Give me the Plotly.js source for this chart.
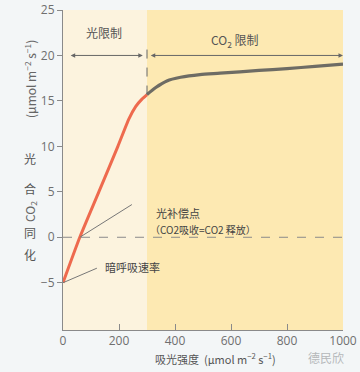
<!DOCTYPE html>
<html>
<head>
<meta charset="utf-8">
<script src="https://cdn.plot.ly/plotly-3.0.1.min.js"></script>
<style>html,body{margin:0;padding:0;background:#f3f6f7;}</style>
</head>
<body>
<div id="chart" style="width:360px;height:372px;"></div>
<script>
// Light-limited segment (red)
var lightX = [0, 60, 128, 196, 235, 260, 282, 300];
var lightY = [-5, 0, 5, 10, 13, 14.4, 15.2, 15.7];
// CO2-limited segment (gray)
var co2X = [300, 330, 371, 420, 489, 561, 700, 800, 900, 1000];
var co2Y = [15.7, 16.45, 17.2, 17.6, 17.9, 18.05, 18.35, 18.55, 18.8, 19.05];
var xTicks = [0, 200, 400, 600, 800, 1000];
var yTicks = [-5, 0, 5, 10, 15, 20, 25];
var boundary = 300;

var cjk = '"Noto Sans CJK SC", "Noto Sans", sans-serif';
var tickFont = {family: '"Open Sans", "Noto Sans", sans-serif', size: 12, color: '#6f6f6f'};

var traces = [
  {x: lightX, y: lightY, mode: 'lines', line: {color: '#ee6a4e', width: 3, shape: 'spline', smoothing: 0.5}, hoverinfo: 'skip'},
  {x: co2X, y: co2Y, mode: 'lines', line: {color: '#6e6c64', width: 3.2, shape: 'spline', smoothing: 0.7}, hoverinfo: 'skip'}
];

var yCol = -0.118;
function py(p){ return (330 - p) / 320; }
function side(y, text, rot){
  var a = {xref: 'paper', yref: 'paper', x: yCol, y: py(y), xanchor: 'center', yanchor: 'middle',
           text: text, showarrow: false, font: {family: cjk, size: 12, color: '#555'}};
  if (rot) { a.textangle = -90; a.font.color = '#666'; }
  return a;
}

var layout = {
  width: 360, height: 372,
  margin: {l: 63, r: 17, t: 10, b: 42},
  paper_bgcolor: '#f3f6f7',
  plot_bgcolor: '#fcf3de',
  showlegend: false,
  xaxis: {range: [0, 1000], tickvals: xTicks, ticks: 'inside', ticklen: 6, tickcolor: '#8a8a8a',
          showline: true, linecolor: '#8a8a8a', linewidth: 1, showgrid: false, zeroline: false,
          tickfont: tickFont, fixedrange: true},
  yaxis: {range: [-10.2, 25], tickvals: yTicks, ticktext: ['\u22125','0','5','10','15','20','25'],
          ticks: 'outside', ticklen: 5, tickcolor: '#8a8a8a',
          showline: true, linecolor: '#8a8a8a', linewidth: 1, showgrid: false, zeroline: false,
          tickfont: tickFont, fixedrange: true},
  shapes: [
    {type: 'rect', xref: 'x', yref: 'y', x0: 0, x1: boundary, y0: -10.2, y1: 25, fillcolor: '#fcf3de', line: {width: 0}, layer: 'below'},
    {type: 'rect', xref: 'x', yref: 'y', x0: boundary, x1: 1000, y0: -10.2, y1: 25, fillcolor: '#fde9b2', line: {width: 0}, layer: 'below'},
    {type: 'line', xref: 'x', yref: 'y', x0: 0, x1: 1000, y0: 0, y1: 0, line: {color: '#8a8a8a', width: 1, dash: 'dash'}},
    {type: 'line', xref: 'x', yref: 'y', x0: boundary, x1: boundary, y0: 15.7, y1: 21.2, line: {color: '#666', width: 1, dash: 'dash'}},
    {type: 'line', xref: 'x', yref: 'y', x0: 60, y0: 0, x1: 246, y1: 3.6, line: {color: '#777', width: 1}},
    {type: 'line', xref: 'x', yref: 'y', x0: 0, y0: -5, x1: 121, y1: -3.4, line: {color: '#777', width: 1}}
  ],
  annotations: [
    {xref: 'x', yref: 'y', axref: 'x', ayref: 'y', x: 285, y: 20, ax: 22, ay: 20, text: '', showarrow: true,
     arrowhead: 2, arrowside: 'end+start', arrowsize: 0.9, arrowwidth: 1, arrowcolor: '#666'},
    {xref: 'x', yref: 'y', axref: 'x', ayref: 'y', x: 1000, y: 20, ax: 308, ay: 20, text: '', showarrow: true,
     arrowhead: 2, arrowside: 'end+start', arrowsize: 0.9, arrowwidth: 1, arrowcolor: '#666'},
    {xref: 'x', yref: 'y', x: 145, y: 22.5, xanchor: 'center', yanchor: 'middle', text: '光限制', showarrow: false, font: {family: cjk, size: 12, color: '#555'}},
    {xref: 'x', yref: 'y', x: 615, y: 21.6, xanchor: 'center', yanchor: 'middle', text: 'CO<sub>2</sub> 限制', showarrow: false, font: {family: cjk, size: 12, color: '#555'}},
    {xref: 'x', yref: 'y', x: 325, y: 2.7, xanchor: 'left', yanchor: 'middle', text: '光补偿点', showarrow: false, font: {family: cjk, size: 11, color: '#444'}},
    {xref: 'x', yref: 'y', x: 305, y: 0.9, xanchor: 'left', yanchor: 'middle', text: '（CO2吸收=CO2 释放）', showarrow: false, font: {family: cjk, size: 10, color: '#444'}},
    {xref: 'x', yref: 'y', x: 143, y: -3.3, xanchor: 'left', yanchor: 'middle', text: '暗呼吸速率', showarrow: false, font: {family: cjk, size: 11, color: '#444'}},
    side(79, '(μmol m<sup>−2</sup> s<sup>−1</sup>)', true),
    side(158, '光'),
    side(188, '合'),
    side(211, 'CO<sub>2</sub>', true),
    side(232, '同'),
    side(254, '化'),
    {xref: 'paper', yref: 'paper', x: 0.543, y: py(358), xanchor: 'center', yanchor: 'middle', text: '吸光强度  (μmol m<sup>−2</sup> s<sup>−1</sup>)', showarrow: false, font: {family: cjk, size: 11, color: '#555'}},
    {xref: 'paper', yref: 'paper', x: 1.01, y: py(357), xanchor: 'right', yanchor: 'middle', text: '德民欣', showarrow: false, font: {family: cjk, size: 12, color: '#b5b8ba'}}
  ]
};

Plotly.newPlot('chart', traces, layout, {displayModeBar: false, staticPlot: true});
</script>
</body>
</html>
